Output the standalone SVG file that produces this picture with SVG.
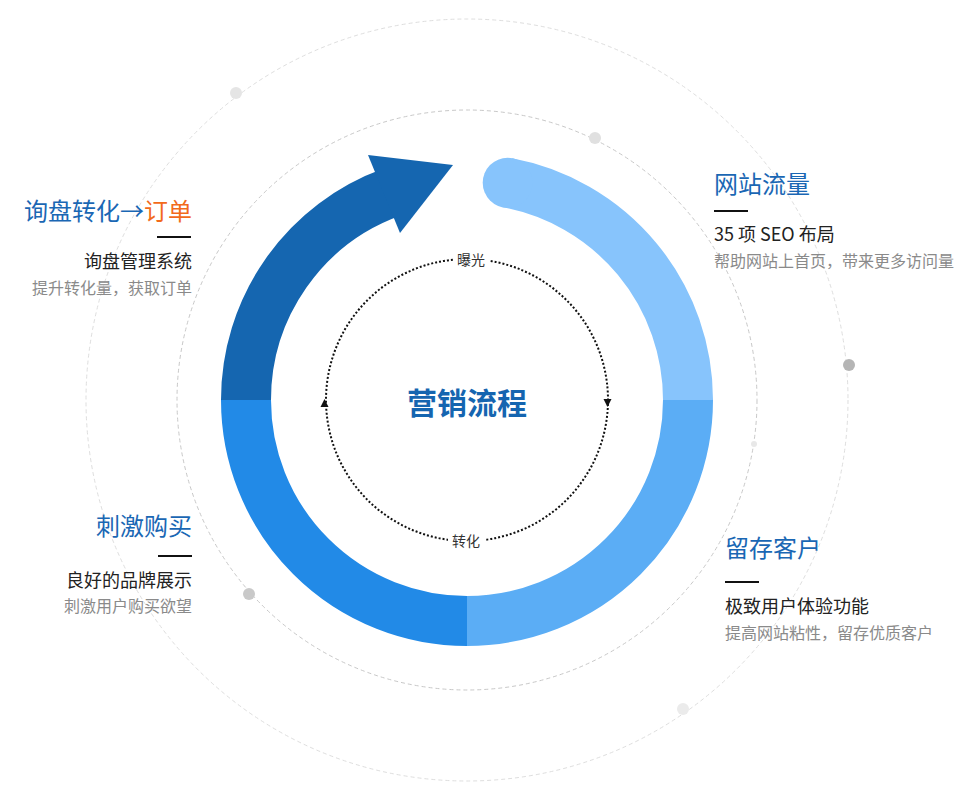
<svg xmlns="http://www.w3.org/2000/svg" width="955" height="799" viewBox="0 0 955 799">
<style>
text{font-family:"Noto Sans CJK SC","Noto Sans",sans-serif;}
.title{font-size:24px;fill:#1a67b4;}
.sub{font-size:18px;fill:#222;}
.gray{font-size:16px;fill:#8a8a8a;}
.rule{stroke:#111;stroke-width:2;}
.seg{fill:none;stroke-width:50;}
.guide{fill:none;stroke-dasharray:4 3;stroke-width:1;}
.small{font-size:14px;fill:#333;}
</style>
<rect width="955" height="799" fill="#fff"/>
<g id="background">
<circle class="guide" cx="467" cy="400" r="381" stroke="#dedede"/>
<circle class="guide" cx="467" cy="400" r="290" stroke="#c8c8c8"/>
<circle cx="236" cy="93" r="6" fill="#e5e5e5"/>
<circle cx="595" cy="138" r="6" fill="#e0e0e0"/>
<circle cx="849" cy="365" r="6" fill="#b5b5b5"/>
<circle cx="754" cy="444" r="3" fill="#e8e8e8"/>
<circle cx="683" cy="709" r="6" fill="#ebebeb"/>
<circle cx="249" cy="594" r="6" fill="#c9c9c9"/>
</g>
<g id="ring">
<path class="seg" stroke="#87c4fc" d="M507.7,182.8 A221 221 0 0 1 688,400"/>
<circle cx="507.7" cy="182.8" r="25" fill="#87c4fc"/>
<path class="seg" stroke="#5badf5" d="M688,400 A221 221 0 0 1 467,621"/>
<path class="seg" stroke="#228ae7" d="M467,621 A221 221 0 0 1 246,400"/>
<path class="seg" stroke="#1566b0" d="M246,400 A221 221 0 0 1 391.4,192.3"/>
<polygon points="368,155 453,165 400,233" fill="#1566b0"/>
</g>
<g id="connectors">
<circle cx="467" cy="400" r="141" fill="none" stroke="#111" stroke-width="2" stroke-dasharray="2 2"/>
<polygon points="324.5,399 320.5,407 328.5,407" fill="#111"/>
<polygon points="607.5,407 603.5,399 611.5,399" fill="#111"/>
<rect x="453" y="250" width="36" height="20" fill="#fff"/>
<text class="small" x="471" y="265" text-anchor="middle">曝光</text>
<rect x="448" y="530" width="38" height="20" fill="#fff"/>
<text class="small" x="466" y="546" text-anchor="middle">转化</text>
</g>
<g id="center">
<text x="467" y="414" text-anchor="middle" font-size="30" font-weight="bold" fill="#1565b0">营销流程</text>
</g>
<g id="node-traffic">
<text class="title" x="714" y="193">网站流量</text>
<line class="rule" x1="714" y1="211" x2="748" y2="211"/>
<text class="sub" x="714" y="241">35 项 SEO 布局</text>
<text class="gray" x="714" y="267">帮助网站上首页，带来更多访问量</text>
</g>
<g id="node-retain">
<text class="title" x="725" y="557">留存客户</text>
<line class="rule" x1="725" y1="582" x2="759" y2="582"/>
<text class="sub" x="725" y="613">极致用户体验功能</text>
<text class="gray" x="725" y="639">提高网站粘性，留存优质客户</text>
</g>
<g id="node-stimulate">
<text class="title" x="192" y="535" text-anchor="end">刺激购买</text>
<line class="rule" x1="158" y1="556" x2="192" y2="556"/>
<text class="sub" x="192" y="587" text-anchor="end">良好的品牌展示</text>
<text class="gray" x="192" y="612" text-anchor="end">刺激用户购买欲望</text>
</g>
<g id="node-order">
<text class="title" x="192" y="220" text-anchor="end">询盘转化→<tspan fill="#f26a1b">订单</tspan></text>
<line class="rule" x1="157" y1="237" x2="191" y2="237"/>
<text class="sub" x="192" y="268" text-anchor="end">询盘管理系统</text>
<text class="gray" x="192" y="294" text-anchor="end">提升转化量，获取订单</text>
</g>
</svg>
